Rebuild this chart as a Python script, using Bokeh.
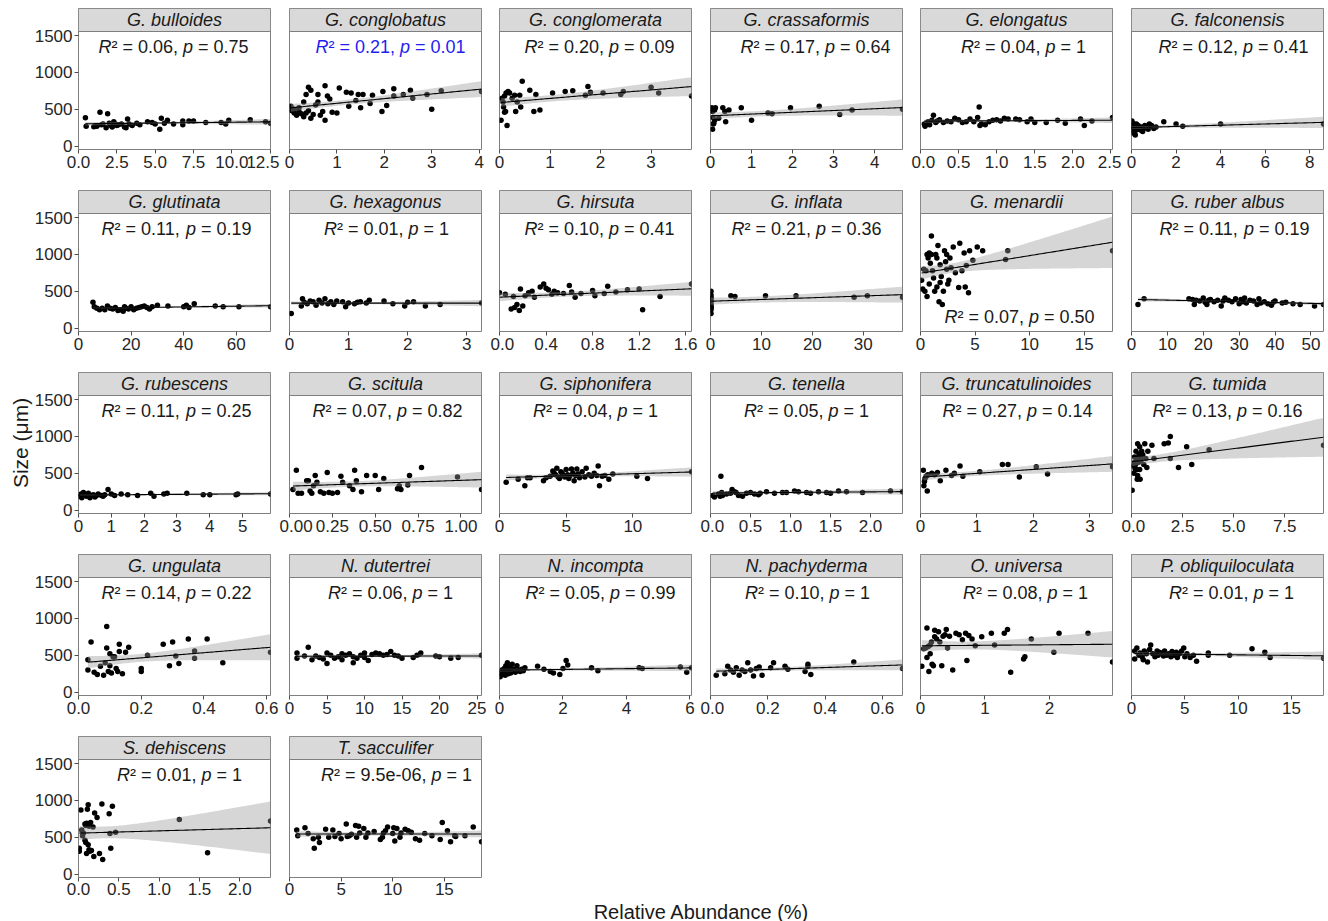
import numpy as np
from bokeh.plotting import figure
from bokeh.layouts import row, column
from bokeh.models import FixedTicker, Label, ColumnDataSource
from bokeh.core.properties import value, field
from bokeh.embed import file_html
from bokeh.resources import INLINE

# ---------------- data ----------------
species = ["G. bulloides", "G. conglobatus", "G. conglomerata", "G. crassaformis", "G. elongatus", "G. falconensis",
           "G. glutinata", "G. hexagonus", "G. hirsuta", "G. inflata", "G. menardii", "G. ruber albus",
           "G. rubescens", "G. scitula", "G. siphonifera", "G. tenella", "G. truncatulinoides", "G. tumida",
           "G. ungulata", "N. dutertrei", "N. incompta", "N. pachyderma", "O. universa", "P. obliquiloculata",
           "S. dehiscens", "T. sacculifer"]
r2_text = ["0.06", "0.21", "0.20", "0.17", "0.04", "0.12", "0.11", "0.01", "0.10", "0.21", "0.07", "0.11",
           "0.11", "0.07", "0.04", "0.05", "0.27", "0.13", "0.14", "0.06", "0.05", "0.10", "0.08", "0.01",
           "0.01", "9.5e-06"]
p_text = ["0.75", "0.01", "0.09", "0.64", "1", "0.41", "0.19", "1", "0.41", "0.36", "0.50", "0.19",
          "0.25", "0.82", "1", "1", "0.14", "0.16", "0.22", "1", "0.99", "1", "1", "1", "1", "1"]
x_tick_labels = [
    ["0.0", "2.5", "5.0", "7.5", "10.0", "12.5"], ["0", "1", "2", "3", "4"], ["0", "1", "2", "3"],
    ["0", "1", "2", "3", "4"], ["0.0", "0.5", "1.0", "1.5", "2.0", "2.5"], ["0", "2", "4", "6", "8"],
    ["0", "20", "40", "60"], ["0", "1", "2", "3"], ["0.0", "0.4", "0.8", "1.2", "1.6"],
    ["0", "10", "20", "30"], ["0", "5", "10", "15"], ["0", "10", "20", "30", "40", "50"],
    ["0", "1", "2", "3", "4", "5"], ["0.00", "0.25", "0.50", "0.75", "1.00"], ["0", "5", "10"],
    ["0.0", "0.5", "1.0", "1.5", "2.0"], ["0", "1", "2", "3"], ["0.0", "2.5", "5.0", "7.5"],
    ["0.0", "0.2", "0.4", "0.6"], ["0", "5", "10", "15", "20", "25"], ["0", "2", "4", "6"],
    ["0.0", "0.2", "0.4", "0.6"], ["0", "1", "2"], ["0", "5", "10", "15"],
    ["0.0", "0.5", "1.0", "1.5", "2.0"], ["0", "5", "10", "15"]]
y_tick_values = [0, 500, 1000, 1500]

bulloides = [(0.45,385),(0.5,270),(1.0,265),(1.2,270),(1.4,460),(1.5,290),(1.6,300),(1.8,250),(1.9,440),(2.0,310),(2.1,280),(2.2,260),(2.3,330),(2.4,300),(2.5,280),(2.6,290),(2.8,300),(3.0,260),(3.1,250),(3.2,370),(3.3,300),(3.5,280),(3.8,310),(4.0,290),(4.5,330),(4.8,320),(5.0,300),(5.3,230),(5.4,380),(5.6,310),(5.8,350),(6.2,300),(6.8,340),(6.8,290),(7.2,340),(7.5,340),(8.3,320),(9.3,320),(9.6,300),(9.8,350),(11.2,360),(12.2,330),(12.52,310)]
conglobatus = [(0.03,540),(0.05,480),(0.1,450),(0.1,500),(0.15,420),(0.2,470),(0.2,520),(0.25,440),(0.3,600),(0.3,400),(0.35,450),(0.35,700),(0.4,800),(0.4,480),(0.45,760),(0.45,380),(0.5,430),(0.55,560),(0.6,700),(0.6,600),(0.65,420),(0.7,470),(0.75,820),(0.75,350),(0.8,680),(0.85,640),(0.9,460),(1.0,450),(1.05,790),(1.2,730),(1.25,540),(1.3,720),(1.4,620),(1.45,700),(1.5,520),(1.55,700),(1.7,580),(1.75,690),(1.95,470),(1.97,740),(2.05,550),(2.2,780),(2.2,680),(2.4,700),(2.55,760),(2.6,650),(2.9,700),(3.0,500),(3.2,750),(4.05,740)]
conglomerata = [(0.03,350),(0.05,650),(0.07,600),(0.08,530),(0.1,680),(0.1,460),(0.12,470),(0.13,720),(0.15,280),(0.17,740),(0.2,720),(0.25,650),(0.3,690),(0.32,470),(0.35,600),(0.4,690),(0.42,530),(0.45,880),(0.6,760),(0.68,470),(0.72,700),(0.8,490),(1.05,720),(1.3,740),(1.45,750),(1.7,690),(1.75,810),(1.8,730),(2.05,720),(2.4,700),(2.45,740),(3.0,800),(3.15,720),(3.8,680)]
crassaformis = [(0.03,520),(0.05,470),(0.06,390),(0.05,230),(0.07,300),(0.08,310),(0.1,490),(0.1,350),(0.12,520),(0.2,380),(0.3,520),(0.35,470),(0.37,330),(0.45,490),(0.75,520),(1.0,350),(1.4,450),(1.5,440),(1.95,520),(2.65,540),(3.15,430),(3.45,490),(4.68,500)]
elongatus = [(0.05,300),(0.06,270),(0.1,330),(0.12,290),(0.15,350),(0.17,420),(0.2,320),(0.22,340),(0.25,360),(0.3,320),(0.35,340),(0.4,330),(0.45,380),(0.5,360),(0.55,320),(0.6,330),(0.65,370),(0.7,330),(0.75,390),(0.77,530),(0.78,280),(0.8,300),(0.85,290),(0.9,330),(0.95,350),(1.0,360),(1.05,340),(1.1,380),(1.15,370),(1.25,370),(1.3,360),(1.4,330),(1.45,370),(1.5,320),(1.65,320),(1.8,350),(1.9,310),(2.1,370),(2.15,280),(2.25,340),(2.52,390)]
falconensis = [(0.02,340),(0.05,280),(0.05,220),(0.07,180),(0.1,250),(0.12,300),(0.15,200),(0.17,150),(0.2,260),(0.22,300),(0.25,230),(0.3,280),(0.35,250),(0.4,220),(0.45,260),(0.5,200),(0.55,240),(0.6,280),(0.7,270),(0.75,230),(0.8,300),(0.9,280),(1.0,240),(1.1,260),(1.45,330),(2.0,300),(2.3,270),(4.0,300),(8.62,300)]
glutinata = [(5.5,350),(6,290),(7,270),(8,250),(9,270),(10,250),(11,300),(12,270),(13,260),(14,280),(15,240),(16,250),(17,230),(17.5,290),(18,270),(19,260),(20,290),(21,250),(22,270),(23,280),(24,290),(25,300),(26,280),(27,260),(28,290),(30,310),(34,300),(40,290),(41,310),(42,280),(44,330),(52,300),(55,290),(61,290),(73,290)]
hexagonus = [(0.03,200),(0.2,300),(0.22,400),(0.25,350),(0.3,330),(0.35,370),(0.4,360),(0.45,310),(0.5,380),(0.55,340),(0.6,400),(0.65,330),(0.7,360),(0.75,320),(0.8,370),(0.9,360),(0.95,290),(1.0,340),(1.1,330),(1.15,350),(1.2,360),(1.3,340),(1.35,380),(1.6,370),(1.75,330),(1.95,300),(2.0,350),(2.1,360),(2.3,300),(2.55,320),(3.25,340)]
hirsuta = [(0.0,480),(0.05,460),(0.1,260),(0.12,430),(0.13,280),(0.15,320),(0.17,240),(0.18,530),(0.2,300),(0.22,440),(0.25,480),(0.28,500),(0.3,420),(0.35,560),(0.38,600),(0.4,540),(0.42,520),(0.45,460),(0.47,500),(0.5,480),(0.55,470),(0.6,580),(0.62,490),(0.65,420),(0.7,470),(0.8,510),(0.82,440),(0.9,470),(0.93,570),(1.0,490),(1.1,520),(1.2,530),(1.23,250),(1.38,430),(1.65,600)]
inflata = [(0.1,500),(0.1,450),(0.1,420),(0.1,400),(0.1,370),(0.1,330),(0.1,300),(0.1,250),(0.1,200),(0.15,280),(4.0,440),(4.8,430),(10.8,440),(16.8,440),(28.2,420),(30.8,440),(37.7,420)]
menardii = [(0.1,650),(0.2,530),(0.3,800),(0.4,500),(0.5,780),(0.6,1000),(0.6,430),(0.7,950),(0.8,600),(0.8,1020),(0.9,880),(1.0,1250),(1.0,1000),(1.1,780),(1.2,680),(1.3,500),(1.4,1000),(1.5,950),(1.5,560),(1.6,1120),(1.7,360),(1.8,860),(1.8,620),(1.9,700),(2.0,320),(2.1,500),(2.2,1050),(2.3,900),(2.4,1000),(2.4,800),(2.5,600),(2.6,650),(2.7,950),(2.8,820),(3.0,1100),(3.2,750),(3.5,550),(3.6,1150),(3.8,780),(4.0,1020),(4.1,560),(4.2,850),(4.4,480),(4.5,1050),(4.8,920),(5.2,1100),(5.7,1050),(7.8,930),(8.0,1050),(17.6,1050)]
ruber_albus = [(1.8,320),(3.5,400),(16,400),(17,390),(17.5,320),(18,380),(19,370),(20,410),(20.5,350),(21,320),(21.5,380),(22,390),(23,360),(24,380),(25,300),(25.5,370),(26,410),(27,380),(28,360),(29,400),(30,330),(30.5,390),(31,360),(31.5,410),(32,340),(33,380),(34,370),(35,320),(35.5,400),(36,340),(37,360),(38,330),(39,310),(39.5,350),(40,370),(42,340),(43,350),(45,330),(47,320),(51,300),(53.5,320)]
rubescens = [(0.05,190),(0.08,220),(0.1,170),(0.15,240),(0.2,200),(0.25,190),(0.3,230),(0.35,170),(0.4,200),(0.45,210),(0.5,180),(0.55,200),(0.6,220),(0.7,200),(0.75,190),(0.8,210),(0.9,280),(1.0,220),(1.1,200),(1.3,220),(1.5,210),(1.8,200),(2.2,230),(2.3,190),(2.6,220),(2.7,230),(3.3,230),(3.8,210),(4.0,210),(4.8,210),(4.85,220),(5.85,220)]
scitula = [(0.02,280),(0.04,540),(0.05,230),(0.07,230),(0.1,400),(0.11,400),(0.12,260),(0.13,230),(0.14,330),(0.15,470),(0.16,380),(0.18,250),(0.2,230),(0.22,510),(0.23,240),(0.25,230),(0.28,240),(0.3,460),(0.31,380),(0.35,330),(0.37,280),(0.38,540),(0.39,400),(0.42,250),(0.45,470),(0.5,470),(0.52,280),(0.55,430),(0.63,290),(0.64,330),(0.65,280),(0.69,340),(0.7,470),(0.77,580),(0.98,450),(1.12,280)]
siphonifera = [(0.5,380),(1.4,420),(1.9,330),(2.1,440),(2.3,440),(3.3,400),(3.5,440),(3.8,460),(4.0,530),(4.1,500),(4.2,480),(4.3,570),(4.4,450),(4.5,430),(4.6,520),(4.7,500),(4.8,470),(4.9,450),(5.0,550),(5.1,480),(5.2,430),(5.3,470),(5.4,560),(5.5,500),(5.6,400),(5.7,470),(5.8,560),(5.9,490),(6.0,440),(6.2,520),(6.4,450),(6.5,570),(6.7,480),(6.9,460),(7.1,500),(7.3,470),(7.4,600),(7.5,330),(7.7,460),(7.9,470),(8.2,420),(8.5,490),(10.3,460),(11.1,430),(14.4,520)]
tenella = [(0.03,200),(0.05,180),(0.1,220),(0.12,190),(0.13,460),(0.14,240),(0.15,200),(0.2,220),(0.25,230),(0.27,280),(0.3,250),(0.32,240),(0.35,200),(0.4,190),(0.45,230),(0.5,240),(0.55,220),(0.6,210),(0.62,230),(0.7,250),(0.8,230),(0.9,240),(0.95,240),(1.05,260),(1.1,250),(1.2,240),(1.25,230),(1.35,250),(1.45,240),(1.5,230),(1.6,260),(1.7,250),(1.9,240),(2.25,260),(2.4,250)]
truncatulinoides = [(0.05,540),(0.06,330),(0.07,390),(0.08,430),(0.1,460),(0.12,260),(0.13,480),(0.2,500),(0.25,480),(0.3,510),(0.35,400),(0.45,540),(0.55,470),(0.6,500),(0.7,600),(0.75,460),(1.05,520),(1.45,620),(1.55,620),(1.75,450),(2.05,590),(2.25,490),(3.4,590)]
tumida = [(0.03,270),(0.1,600),(0.12,500),(0.15,650),(0.15,720),(0.18,560),(0.2,620),(0.22,800),(0.25,700),(0.27,550),(0.28,420),(0.3,900),(0.3,470),(0.35,650),(0.37,760),(0.4,550),(0.4,860),(0.42,420),(0.45,710),(0.47,680),(0.5,800),(0.55,750),(0.6,620),(0.65,900),(0.7,700),(0.75,580),(0.8,800),(1.0,880),(1.1,700),(1.6,900),(1.8,910),(1.9,1000),(1.9,700),(2.3,580),(2.7,860),(2.95,620),(3.8,820),(9.4,880)]
ungulata = [(0.03,440),(0.03,300),(0.04,680),(0.05,270),(0.06,240),(0.07,350),(0.08,230),(0.085,400),(0.09,600),(0.09,890),(0.095,280),(0.1,520),(0.1,360),(0.105,260),(0.11,480),(0.115,480),(0.12,320),(0.125,280),(0.13,650),(0.13,550),(0.14,250),(0.15,540),(0.16,610),(0.2,320),(0.2,280),(0.22,500),(0.27,650),(0.29,360),(0.3,680),(0.31,490),(0.32,390),(0.35,720),(0.37,460),(0.37,560),(0.41,720),(0.46,400),(0.612,540)]
dutertrei = [(1,530),(1,460),(2,490),(2.5,610),(3,440),(3.5,490),(4,470),(4.5,450),(5,530),(5,390),(5.5,500),(6,460),(6.5,480),(7,520),(7,440),(7.5,500),(8,520),(8.5,480),(8.5,400),(9,460),(9.5,500),(10,530),(10,470),(10.5,430),(11,510),(11.5,530),(12,520),(12.5,500),(13,510),(13.5,550),(14,500),(14.5,490),(15,460),(16.5,470),(17,500),(17.5,530),(19.5,490),(20,480),(21.5,460),(22.5,470),(25.6,500)]
incompta = [(0.02,210),(0.05,260),(0.08,300),(0.1,240),(0.12,270),(0.15,320),(0.18,230),(0.2,360),(0.22,280),(0.25,400),(0.28,250),(0.3,300),(0.32,340),(0.35,260),(0.4,380),(0.42,290),(0.45,310),(0.5,270),(0.55,360),(0.6,300),(0.65,280),(0.7,310),(0.75,290),(0.8,330),(1.2,350),(1.4,310),(1.6,280),(1.7,260),(1.9,240),(2.0,320),(2.1,430),(2.15,370),(2.9,330),(3.1,290),(4.4,330),(4.5,320),(5.7,340),(5.9,270),(6.05,330)]
pachyderma = [(0.02,230),(0.05,250),(0.06,350),(0.07,300),(0.08,270),(0.09,330),(0.1,230),(0.11,300),(0.12,280),(0.13,400),(0.14,300),(0.15,220),(0.16,320),(0.17,340),(0.18,230),(0.21,330),(0.22,400),(0.26,350),(0.27,310),(0.33,280),(0.34,380),(0.34,350),(0.35,240),(0.5,410),(0.67,320)]
universa = [(0.02,350),(0.05,590),(0.08,600),(0.1,870),(0.1,470),(0.12,620),(0.13,280),(0.15,640),(0.15,520),(0.17,680),(0.18,380),(0.2,360),(0.22,750),(0.22,840),(0.25,720),(0.28,820),(0.3,680),(0.33,360),(0.35,760),(0.38,780),(0.4,850),(0.42,600),(0.45,760),(0.5,300),(0.55,800),(0.6,780),(0.65,710),(0.7,800),(0.72,430),(0.75,770),(0.8,720),(0.85,630),(0.95,750),(1.1,800),(1.15,640),(1.3,800),(1.35,850),(1.4,270),(1.6,450),(1.62,480),(1.72,720),(2.07,540),(2.15,800),(2.6,800),(2.98,410)]
obliquiloculata = [(0.3,450),(0.3,560),(0.5,600),(0.7,500),(0.8,530),(1.0,480),(1.1,440),(1.2,560),(1.4,520),(1.5,410),(1.7,580),(1.8,640),(2.0,520),(2.2,480),(2.4,560),(2.5,500),(2.6,540),(2.8,530),(3.0,490),(3.1,560),(3.3,500),(3.5,520),(3.7,480),(3.8,550),(4.0,500),(4.2,540),(4.3,470),(4.5,520),(4.7,560),(4.9,600),(5.0,480),(5.2,520),(5.5,470),(5.8,500),(6.1,420),(7.2,530),(7.2,500),(9.2,500),(11.3,590),(12.5,540),(13.0,470),(18.0,460)]
dehiscens = [(0.01,350),(0.01,310),(0.03,870),(0.04,600),(0.05,520),(0.06,560),(0.08,680),(0.08,460),(0.09,430),(0.09,660),(0.1,280),(0.1,690),(0.11,880),(0.12,400),(0.12,940),(0.13,330),(0.13,650),(0.14,310),(0.15,700),(0.16,320),(0.18,640),(0.19,240),(0.2,830),(0.23,770),(0.26,280),(0.29,950),(0.3,200),(0.38,820),(0.39,550),(0.4,350),(0.42,920),(0.46,570),(1.25,740),(1.6,290),(2.38,720)]
sacculifer = [(0.7,600),(0.8,520),(1.5,630),(1.8,550),(2.3,480),(2.4,350),(2.8,500),(2.9,430),(3.5,610),(3.8,500),(4.2,600),(4.4,510),(4.8,550),(5.0,480),(5.5,680),(5.6,510),(5.8,520),(6.0,540),(6.4,660),(6.5,500),(6.7,650),(6.8,560),(7.2,620),(7.4,500),(7.6,560),(8.2,580),(8.8,470),(9.0,500),(9.1,560),(9.3,590),(9.5,640),(10.0,550),(10.1,630),(10.2,450),(10.4,620),(10.7,500),(10.8,560),(11.2,610),(11.5,590),(11.8,570),(12.2,480),(12.6,460),(13.1,550),(13.8,520),(14.6,470),(14.8,700),(15.3,590),(15.6,440),(16.0,520),(16.1,510),(17.0,520),(17.8,640),(18.6,440)]

points = [bulloides, conglobatus, conglomerata, crassaformis, elongatus, falconensis,
          glutinata, hexagonus, hirsuta, inflata, menardii, ruber_albus,
          rubescens, scitula, siphonifera, tenella, truncatulinoides, tumida,
          ungulata, dutertrei, incompta, pachyderma, universa, obliquiloculata,
          dehiscens, sacculifer]

# ---------------- styling ----------------
FONT = "Liberation Sans"
NB = "\u00a0"
label_colors = ["#1A1A1A"] * 26
label_colors[1] = "#1F1FF0"
label_at_bottom = [False] * 26
label_at_bottom[10] = True
label_dx = [-1, 5, 4, 9, 7, 6, 2, 1, 4, 0, 3, 7, 2, 2, 0, 0, 1, 0, 2, 5, 5, 1, 9, 4, 5, 11]
Y0, YP = -45.0, 1555.0
STRIP_PX, PLOT_PX = 23, 118
YT = YP + (YP - Y0) * STRIP_PX / PLOT_PX
BORDER = "#7F7F7F"
left_b = [78, 10, 9, 10, 9, 10]
right_b = [9, 9, 9, 9, 9, 5]

CW = {**{d: 556 for d in "0123456789"}, ".": 278, ",": 278, " ": 278, NB: 278, "=": 584,
      "\u00b2": 333, "R": 722, "p": 556, "e": 556, "-": 333}


def tw(s, fs):
    return sum(CW.get(ch, 556) for ch in s) * fs / 1000.0


def fit_band(x, y):
    x = np.asarray(x, float)
    y = np.asarray(y, float)
    n = len(x)
    b, a = np.polyfit(x, y, 1)
    xs = np.linspace(x.min(), x.max(), 100)
    yh = a + b * xs
    res = y - (a + b * x)
    s = np.sqrt(np.sum(res ** 2) / (n - 2))
    xm = x.mean()
    sxx = np.sum((x - xm) ** 2)
    se = s * np.sqrt(1.0 / n + (xs - xm) ** 2 / sxx)
    df = n - 2
    t = 1.96 + 2.4 / df + 3.0 / df ** 2
    return xs, yh, yh - t * se, yh + t * se


rows = []
for r in range(5):
    figs = []
    for c in range(6):
        i = r * 6 + c
        if i >= len(species):
            break
        pts = points[i]
        xs = [q[0] for q in pts]
        ys = [q[1] for q in pts]
        xmax = max(xs)
        last = (r == 4)
        p = figure(frame_width=192, frame_height=STRIP_PX + PLOT_PX,
                   x_range=(0, xmax), y_range=(Y0, YT),
                   output_backend="svg", toolbar_location=None, tools="",
                   x_axis_location="below", y_axis_location="left" if c == 0 else None,
                   min_border_left=left_b[c], min_border_right=right_b[c],
                   min_border_top=8, min_border_bottom=24 if last else 33,
                   background_fill_color="white", border_fill_color="white",
                   outline_line_color=BORDER, outline_line_width=1)
        p.xgrid.visible = False
        p.ygrid.visible = False

        # points, band, fit
        p.scatter(xs, ys, size=5.5, color="black", line_color=None)
        fx, fy, lo, hi = fit_band(xs, ys)
        p.varea(x=fx, y1=lo, y2=hi, fill_color="#999999", fill_alpha=0.4)
        p.line(fx, fy, line_color="black", line_width=1.1)

        # strip
        p.quad(left=[0], right=[xmax], bottom=[YP], top=[YT], fill_color="#D9D9D9",
               line_color=BORDER, line_width=1)
        p.text(x=[xmax / 2], y=[(YP + YT) / 2], text=[species[i]], text_font=value(FONT),
               text_font_style=value("italic"), text_font_size=value("18px"),
               text_align=value("center"), text_baseline=value("middle"), text_color="#1A1A1A")

        # R2 / p annotation
        fs = 18
        pieces = [("R", "italic"), ("\u00b2" + NB + "=" + NB + r2_text[i] + "," + NB, "normal"),
                  ("p", "italic"), (NB + "=" + NB + p_text[i], "normal")]
        total = sum(tw(s, fs) for s, _ in pieces)
        off = -total / 2 + label_dx[i]
        offs = []
        for s, _ in pieces:
            offs.append(off)
            off += tw(s, fs)
        ly = 145.0 if label_at_bottom[i] else 1342.0
        src = ColumnDataSource(dict(x=[xmax / 2] * 4, y=[ly] * 4, t=[s for s, _ in pieces],
                                    st=[st for _, st in pieces], xo=offs))
        p.text(x="x", y="y", text="t", x_offset="xo", source=src, text_font=value(FONT),
               text_font_style=field("st"), text_font_size=value("%dpx" % fs),
               text_align=value("left"), text_baseline=value("middle"), text_color=label_colors[i])

        # x axis
        tv = [float(s) for s in x_tick_labels[i]]
        xa = p.xaxis[0]
        xa.ticker = FixedTicker(ticks=tv)
        xa.major_label_overrides = {v: s for v, s in zip(tv, x_tick_labels[i])}
        xa.axis_line_color = None
        xa.major_tick_line_color = "#4D4D4D"
        xa.major_tick_out = 4
        xa.major_tick_in = 0
        xa.minor_tick_line_color = None
        xa.major_label_standoff = 1 if last else 2
        xa.major_label_text_font = FONT
        xa.major_label_text_font_size = "17px"
        xa.major_label_text_color = "#262626"

        if c == 0:
            ya = p.yaxis[0]
            ya.ticker = FixedTicker(ticks=y_tick_values)
            ya.axis_line_color = None
            ya.major_tick_line_color = "#4D4D4D"
            ya.major_tick_out = 4
            ya.major_tick_in = 0
            ya.minor_tick_line_color = None
            ya.major_label_standoff = 2
            ya.major_label_text_font = FONT
            ya.major_label_text_font_size = "17px"
            ya.major_label_text_color = "#262626"
            if r == 2:
                ya.axis_label = "Size (\u03bcm)"
                ya.axis_label_text_font = FONT
                ya.axis_label_text_font_size = "21px"
                ya.axis_label_text_font_style = "normal"
                ya.axis_label_text_color = "#1A1A1A"
                ya.axis_label_standoff = 0
        figs.append(p)
    rows.append(row(*figs, spacing=0))

bottom = figure(width=1328, height=20, x_range=(0, 1), y_range=(0, 1), output_backend="svg",
                toolbar_location=None, tools="", x_axis_location=None, y_axis_location=None,
                min_border=0, outline_line_color=None)
bottom.xgrid.visible = False
bottom.ygrid.visible = False
bottom.add_layout(Label(x=701, y=10, x_units="screen", y_units="screen",
                        text="Relative Abundance (%)", text_align="center", text_baseline="middle",
                        text_font=FONT, text_font_size="20px", text_color="#1A1A1A"))

layout = column(*rows, bottom, spacing=0)
open("out.html", "w").write(file_html(layout, INLINE))
